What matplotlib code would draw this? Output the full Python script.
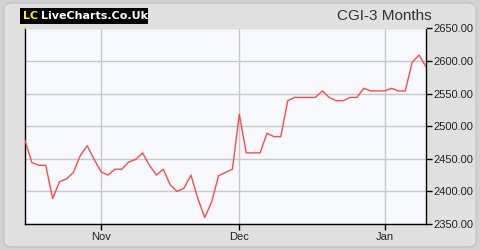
import matplotlib
matplotlib.use('Agg')
import matplotlib.pyplot as plt
from matplotlib.patches import FancyBboxPatch, Rectangle

# CGI share price, last 3 months (one value per trading day)
prices = [2478, 2444, 2440, 2440, 2389, 2415, 2419, 2429, 2455, 2470,
          2449, 2430, 2425, 2434, 2434, 2445, 2449, 2459, 2440, 2425,
          2434, 2410, 2400, 2405, 2425, 2389, 2360, 2384, 2424, 2429,
          2434, 2518, 2459, 2459, 2459, 2489, 2484, 2484, 2539, 2544,
          2544, 2544, 2544, 2554, 2544, 2539, 2539, 2544, 2544, 2558,
          2554, 2554, 2554, 2558, 2554, 2554, 2598, 2609, 2591]
month_idx = [11, 31, 52]  # first trading day of each month
month_labels = ['Nov', 'Dec', 'Jan']
yticks = [2350, 2400, 2450, 2500, 2550, 2600, 2650]

plt.rcParams['font.family'] = ['Liberation Sans', 'DejaVu Sans']

fig = plt.figure(figsize=(4.8, 2.5), dpi=100)
fig.patch.set_facecolor('#d2d2d2')

# rounded light panel behind everything
bg = fig.add_axes([0, 0, 1, 1], zorder=-1)
bg.axis('off')
bg.add_patch(FancyBboxPatch((0.008, 0.012), 0.984, 0.976, boxstyle='round,pad=0,rounding_size=0.02',
                            transform=bg.transAxes, facecolor='#e0e0e0', edgecolor='#c4c4c4', lw=1))
# logo box
bg.add_patch(Rectangle((20/480, 1 - 24/250), 128/480, 16/250, transform=bg.transAxes,
                       facecolor='black', edgecolor='none'))
bg.text(23/480, 1 - 16/250, 'LC', ha='left', va='center', fontsize=8, color='#ffee00',
        fontweight='bold', family='DejaVu Sans', transform=bg.transAxes)
bg.text(41/480, 1 - 16/250, 'LiveCharts.Co.Uk', ha='left', va='center', fontsize=8,
        color='white', fontweight='bold', family='DejaVu Sans', transform=bg.transAxes)
bg.text(432/480, 1 - 16/250, 'CGI-3 Months', ha='right', va='center', fontsize=11,
        color='#333333', transform=bg.transAxes)

ax = fig.add_axes([25/480, 26/250, 401/480, 195.7/250], zorder=1)
ax.set_facecolor('#f8f9ff')
x = list(range(len(prices)))
ax.plot(x, prices, color='#ff4a4a', lw=1.0, zorder=3)

ax.set_xlim(0, len(prices) - 1)
ax.set_ylim(2350, 2650)
ax.set_yticks(yticks)
ax.set_yticklabels(['%.2f' % v for v in yticks])
ax.set_xticks(month_idx)
ax.set_xticklabels(month_labels)
ax.yaxis.tick_right()
ax.tick_params(axis='y', direction='out', length=4, width=1, pad=1, labelsize=8, labelcolor='#222222')
ax.tick_params(axis='x', direction='out', length=4, width=1, pad=2, labelsize=8, labelcolor='#222222')
ax.grid(True, color='#c8c8c8', lw=1)
ax.set_axisbelow(True)
for s in ['left', 'bottom', 'right']:
    ax.spines[s].set_color('black')
    ax.spines[s].set_linewidth(1)
ax.spines['top'].set_color('#dddddd')

fig.savefig('out.png', dpi=100, facecolor=fig.get_facecolor())
